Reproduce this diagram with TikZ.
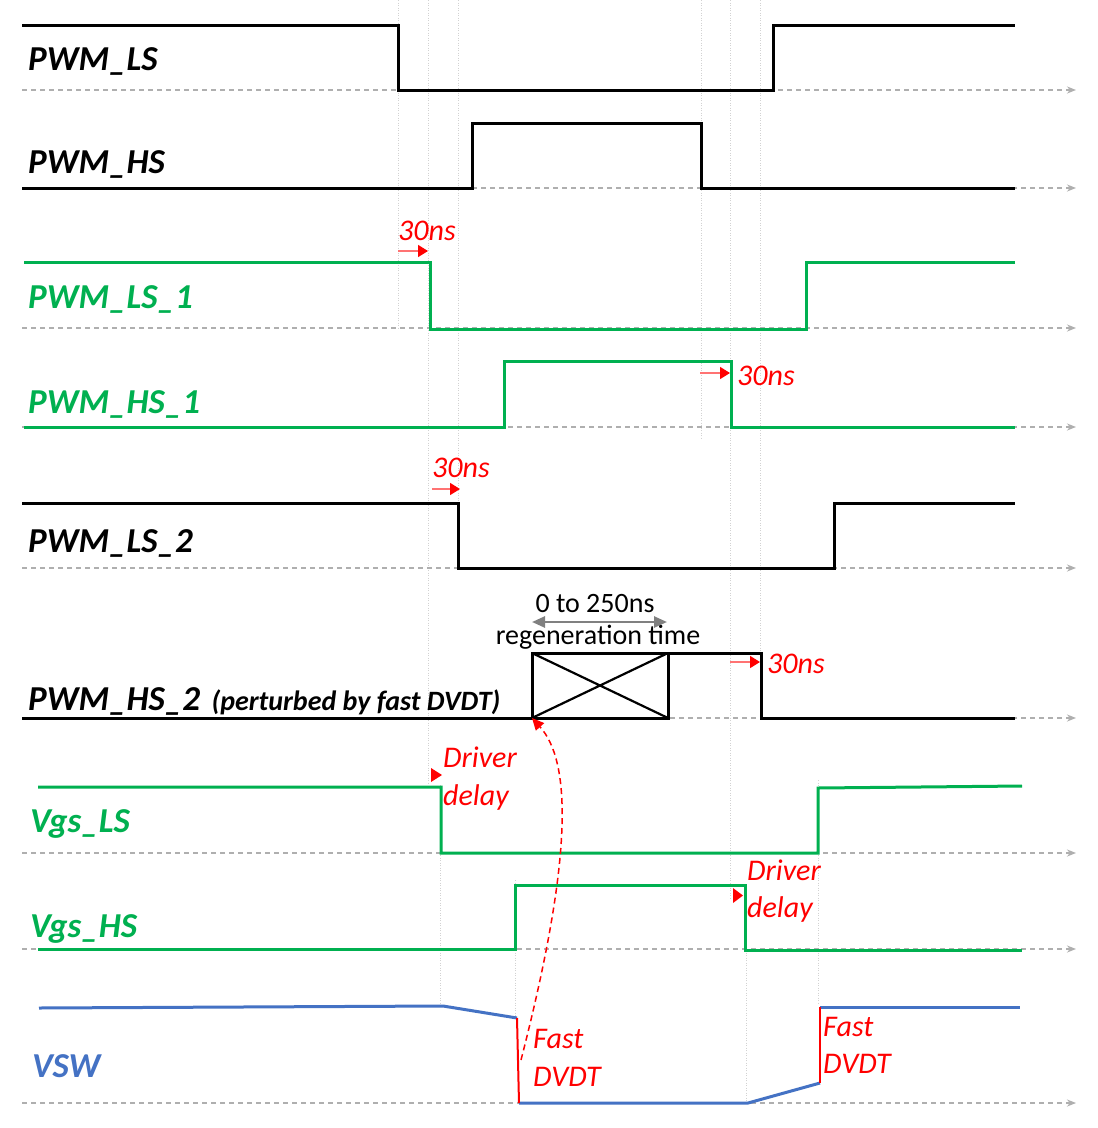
\documentclass[tikz,border=0pt]{standalone}
\usepackage{fontspec}
\setmainfont{Carlito}
\usetikzlibrary{arrows.meta}
\definecolor{sigGreen}{RGB}{0,176,80}
\definecolor{swBlue}{RGB}{68,114,196}
\definecolor{axGray}{RGB}{175,175,175}

\begin{document}
\begin{tikzpicture}
[x=1pt,y=-1pt,
 sig/.style={line width=3pt},
 baseaxis/.style={axGray,line width=1.5pt,dash pattern=on 5pt off 4pt,-{Stealth[length=9pt,width=7pt]}},
 vgrid/.style={gray!35,line width=0.8pt,dash pattern=on 1pt off 1.5pt},
 lbl/.style={anchor=base west,inner sep=0,font=\fontsize{35}{35}\selectfont\bfseries\itshape},
 note/.style={anchor=base west,inner sep=0,text=red,font=\fontsize{30}{30}\selectfont\itshape},
 delayarrow/.style={red!55,line width=1.5pt,-{Triangle[red,length=10pt,width=12pt]}}]

\fill[white] (0,0) rectangle (1098,1128);
\useasboundingbox (0,0) rectangle (1098,1128);

% timing grid
\draw[vgrid] (398,0) -- (398,330);
\draw[vgrid] (428,0) -- (428,785);
\draw[vgrid] (458,0) -- (458,570);
\draw[vgrid] (701,0) -- (701,440);
\draw[vgrid] (730,0) -- (730,900);
\draw[vgrid] (760,0) -- (760,720);
\draw[vgrid] (440,785) -- (440,1005);
\draw[vgrid] (515,880) -- (515,1018);
\draw[vgrid] (746,900) -- (746,1104);
\draw[vgrid] (818,780) -- (818,1005);

% zero lines
\draw[baseaxis] (22,90) -- (1076,90);
\draw[baseaxis] (22,188) -- (1076,188);
\draw[baseaxis] (22,328) -- (1076,328);
\draw[baseaxis] (22,427) -- (1076,427);
\draw[baseaxis] (22,568) -- (1076,568);
\draw[baseaxis] (22,718) -- (1076,718);
\draw[baseaxis] (22,853) -- (1076,853);
\draw[baseaxis] (22,949) -- (1076,949);
\draw[baseaxis] (22,1103) -- (1076,1103);

% waveforms
\draw[sig] (22,25) -- (398,25) -- (398,90) -- (773,90) -- (773,25) -- (1015,25);
\draw[sig] (22,188) -- (472,188) -- (472,123) -- (701,123) -- (701,188) -- (1015,188);
\draw[sig,sigGreen] (24,262) -- (430,262) -- (430,329) -- (806,329) -- (806,262) -- (1015,262);
\draw[sig,sigGreen] (24,427) -- (504,427) -- (504,361) -- (731,361) -- (731,427) -- (1015,427);
\draw[sig] (22,503) -- (458,503) -- (458,568) -- (834,568) -- (834,503) -- (1015,503);

\node[draw,sig,outer sep=0,minimum width=136pt,minimum height=65pt,inner sep=0] (regbox) at (600,685.5) {};
\draw[line width=2.2pt] (regbox.north west) -- (regbox.south east) (regbox.south west) -- (regbox.north east);
\draw[sig] (22,718) -- (regbox.south west);
\draw[sig] (regbox.north east) -- (761,653) -- (761,718) -- (1015,718);

\draw[sig,sigGreen] (38,787) -- (441,787) -- (441,853) -- (818,853) -- (818,788) -- (1022,786);
\draw[sig,sigGreen] (38,949) -- (515,949) -- (515,885) -- (745,885) -- (745,950) -- (1022,950);

\draw[sig,swBlue] (39,1008) -- (443,1006) -- (517,1018);
\draw[sig,swBlue] (519,1103) -- (748,1103) -- (820,1083);
\draw[sig,swBlue] (820,1007) -- (1020,1007);
\draw[line width=2pt,red] (517,1018) -- (519,1103);
\draw[line width=2pt,red] (820,1083) -- (820,1007);

% signal names
\node[lbl] (pwmls) at (28,70) {PWM\_LS};
\node[lbl] (pwmhs) at (28,173) {PWM\_HS};
\node[lbl,text=sigGreen] (pwmlsA) at (28,308) {PWM\_LS\_1};
\node[lbl,text=sigGreen] (pwmhsA) at (28,413) {PWM\_HS\_1};
\node[lbl] (pwmlsB) at (28,552) {PWM\_LS\_2};
\node[lbl] (pwmhsB) at (28,710) {PWM\_HS\_2};
\node[lbl,font=\fontsize{28}{28}\selectfont\bfseries\itshape] (perturb) at ([xshift=11pt]pwmhsB.base east) {(perturbed by fast DVDT)};
\node[lbl,text=sigGreen] (vgsls) at (30,832) {Vgs\_LS};
\node[lbl,text=sigGreen] (vgshs) at (30,937) {Vgs\_HS};
\node[lbl,text=swBlue] (vsw) at (32,1077) {VSW};

% delays
\node[note] (nsA) at (398,240) {30ns};
\node[note] (nsB) at (737,385) {30ns};
\node[note] (nsC) at (432,477) {30ns};
\node[note] (nsD) at (767,673) {30ns};
\coordinate (nsAs) at (398,251);
\coordinate (nsAe) at (428,251);
\coordinate (nsBs) at (700,373);
\coordinate (nsBe) at (730,373);
\coordinate (nsCs) at (432,489);
\coordinate (nsCe) at (460,489);
\coordinate (nsDs) at (730,662);
\coordinate (nsDe) at (760,662);
\draw[delayarrow] (nsAs) -- (nsAe);
\draw[delayarrow] (nsBs) -- (nsBe);
\draw[delayarrow] (nsCs) -- (nsCe);
\draw[delayarrow] (nsDs) -- (nsDe);

\node[note] (drvA) at (443,767) {Driver};
\node[note] (dlyA) at (443,805) {delay};
\node[note] (drvB) at (747,880) {Driver};
\node[note] (dlyB) at (747,917) {delay};
\fill[red] (431,768) -- (442,775) -- (431,782) -- cycle;
\fill[red] (733,888) -- (743,895.5) -- (733,903) -- cycle;

\node[note] (fastA) at (533,1048) {Fast};
\node[note] (dvdtA) at (533,1086) {DVDT};
\node[note] (fastB) at (823,1036) {Fast};
\node[note] (dvdtB) at (823,1073) {DVDT};

% regeneration window
\node[anchor=base,inner sep=0,font=\fontsize{28}{28}\selectfont] (rngtxt) at (595,612) {0 to 250ns};
\node[anchor=base,inner sep=0,font=\fontsize{28}{28}\selectfont] (regtxt) at (598,644) {regeneration time};
\coordinate (rngL) at (532,622);
\coordinate (rngR) at (667,622);
\draw[gray,line width=2.5pt,{Triangle[length=13pt,width=11pt]}-{Triangle[length=13pt,width=11pt]}] (rngL) -- (rngR);

\coordinate (vswfall) at (521,1060);
\draw[red,line width=1.5pt,dash pattern=on 6pt off 4pt,-{Triangle[length=12pt,width=11pt]}] (vswfall) .. controls (575,850) and (570,760) .. (regbox.south west);
\end{tikzpicture}
\end{document}
